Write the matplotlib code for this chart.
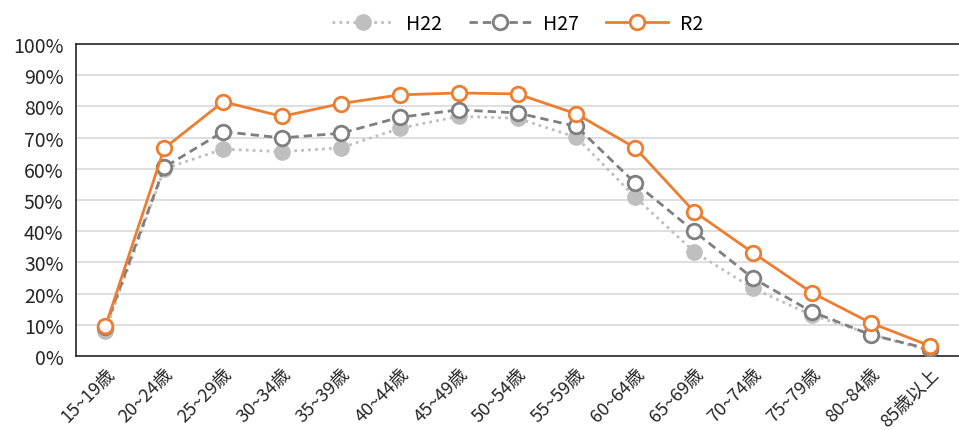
import matplotlib.pyplot as plt
from matplotlib.ticker import FuncFormatter

plt.rcParams['font.family'] = ['Noto Sans CJK JP', 'DejaVu Sans']

ages = ['15~19歳', '20~24歳', '25~29歳', '30~34歳', '35~39歳', '40~44歳', '45~49歳',
        '50~54歳', '55~59歳', '60~64歳', '65~69歳', '70~74歳', '75~79歳', '80~84歳', '85歳以上']
h22 = [8.1, 60.0, 66.3, 65.5, 66.7, 73.0, 76.8, 76.2, 70.1, 50.9, 33.4, 21.7, 13.1, 7.0, 1.7]
h27 = [9.3, 60.5, 71.9, 69.9, 71.4, 76.5, 78.9, 77.9, 73.6, 55.4, 40.0, 24.9, 14.2, 6.8, 2.2]
r2 = [9.5, 66.6, 81.5, 76.8, 80.9, 83.7, 84.3, 84.0, 77.6, 66.7, 46.3, 33.1, 20.3, 10.6, 3.3]

fig = plt.figure(figsize=(9.59, 4.31), dpi=100)
ax = fig.add_axes([76 / 959, 1 - 357 / 431, 1 - 76 / 959, (357 - 45) / 431])

x = range(len(ages))
ax.plot(x, h22, linestyle=(0, (1, 1.5)), linewidth=2, color='#BFBFBF',
        marker='o', markersize=11, markerfacecolor='#BFBFBF', markeredgecolor='#BFBFBF',
        label='H22', zorder=2)
ax.plot(x, h27, linestyle=(0, (3, 1.8)), linewidth=2, color='#7F7F7F',
        marker='o', markersize=10.5, markerfacecolor='white', markeredgecolor='#7F7F7F',
        markeredgewidth=2, label='H27', zorder=3)
ax.plot(x, r2, linestyle='-', linewidth=2, color='#ED7D31',
        marker='o', markersize=10.5, markerfacecolor='white', markeredgecolor='#ED7D31',
        markeredgewidth=2, label='R2', zorder=4)

ax.set_xlim(-0.5, len(ages) - 0.5)
ax.set_ylim(0, 100)
ax.set_yticks(range(0, 101, 10))
ax.yaxis.set_major_formatter(FuncFormatter(lambda v, p: f'{int(v)}%'))
ax.set_xticks(list(x))
ax.set_xticklabels(ages, rotation=45, ha='right', rotation_mode='anchor')
ax.tick_params(axis='both', length=0, labelsize=13, colors='#262626')
ax.tick_params(axis='y', labelsize=14, pad=9)
ax.tick_params(axis='x', pad=6)
ax.grid(axis='y', color='#D9D9D9', linewidth=1.2)
ax.set_axisbelow(True)
for s in ['top', 'left', 'bottom']:
    ax.spines[s].set_color('#262626')
    ax.spines[s].set_linewidth(1.2)
ax.spines['right'].set_visible(False)

ax.legend(loc='lower center', bbox_to_anchor=(0.5, 0.995), ncol=3, frameon=False,
          fontsize=14, handlelength=3.2, handletextpad=0.6, columnspacing=1.4,
          borderaxespad=0.2)

fig.savefig('out.png', dpi=100)
